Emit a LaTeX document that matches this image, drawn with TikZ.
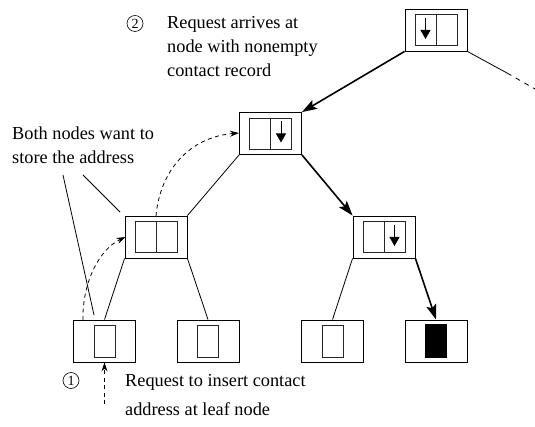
\documentclass[tikz,border=0pt]{standalone}
\usepackage{fontspec}
\setmainfont{Liberation Serif}
\usetikzlibrary{arrows.meta}
\begin{document}
\begin{tikzpicture}[x=1pt,y=-1pt,
  outerbox/.style={draw,line width=0.9pt,minimum width=62pt,minimum height=42pt,inner sep=0pt},
  innerline/.style={line width=0.6pt,draw=black!85},
  cellarrow/.style={line width=0.8pt,-{Triangle[length=9pt,width=10pt]}},
  thickarrow/.style={line width=1.6pt,-{Stealth[length=15pt,width=10pt,inset=3pt]}},
  edge/.style={line width=0.8pt},
  dasharrow/.style={line width=0.8pt,dash pattern=on 4pt off 3.5pt,-{Stealth[length=9pt,width=6pt]}},
  label/.style={inner sep=0pt,anchor=north west,align=left},
  digit/.style={draw,circle,line width=0.6pt,minimum size=16pt,inner sep=0pt,font=\fontsize{14}{14}\selectfont}
]
\useasboundingbox (0,0) rectangle (535,427);
\fill[white] (0,0) rectangle (535,427);

% tree nodes
\node[outerbox] (R) at (436,30) {};
\node[outerbox] (A) at (270.5,133.5) {};
\node[outerbox] (B) at (156,237) {};
\node[outerbox] (C) at (384,237) {};
\node[outerbox] (L1) at (104.5,341) {};
\node[outerbox] (L2) at (208,341) {};
\node[outerbox] (L3) at (332.5,341) {};
\node[outerbox] (L4) at (436,341) {};

% contact record pairs
\foreach \n in {R,A,B,C}
  \draw[innerline,shift={(\n.center)}] (-21,-15.5) rectangle (21,15.5) (0,-15.5) -- (0,15.5);
\draw[cellarrow,shift={(R.center)}] (-10.5,-12) -- (-10.5,9);
\draw[cellarrow,shift={(A.center)}] (10.5,-12) -- (10.5,9);
\draw[cellarrow,shift={(C.center)}] (10.5,-12) -- (10.5,9);

% leaf records
\foreach \n in {L1,L2,L3}
  \draw[innerline,shift={(\n.center)}] (-10.5,-16) rectangle (10.5,16);
\fill[shift={(L4.center)}] (-11,-16.5) rectangle (11,16.5);

% edges
\coordinate (r1) at (507,73);
\coordinate (r2) at (535,89);
\draw[thickarrow] (R.south west) -- (A.north east);
\draw[edge] (R.south east) -- (r1);
\draw[edge,dash pattern=on 5pt off 5pt] (r1) -- (r2);
\draw[edge] (A.south west) -- (B.north east);
\draw[thickarrow] (A.south east) -- (C.north west);
\draw[edge] (B.south west) -- (L1.north);
\draw[edge] (B.south east) -- (L2.north);
\draw[edge] (C.south west) -- (L3.north);
\draw[thickarrow] (C.south east) -- (L4.north);

% dashed request paths
\coordinate (s1) at (83,320);
\coordinate (t1) at (125.5,237);
\draw[dasharrow] (s1) .. controls (82,285) and (98,250) .. (t1);
\coordinate (s2) at (156,216);
\coordinate (t2) at (239,133);
\draw[dasharrow] (s2) .. controls (160,170) and (190,137) .. (t2);
\coordinate (s3) at (104.5,404);
\draw[dasharrow] (s3) -- (L1.south);

% annotations
\node[label,font=\fontsize{18.3}{24}\selectfont] (topnote) at (167,16)
  {Request arrives at\\node with nonempty\\contact record};
\node[digit] (d2) at (135,23.5) {2};
\node[label,font=\fontsize{18.3}{24}\selectfont] (bothnote) at (12,127)
  {Both nodes want to\\store the address};
\coordinate (p1) at (63,175);
\coordinate (q1) at (94,315);
\coordinate (p2) at (83,175);
\coordinate (q2) at (120,212);
\draw[edge] (p1) -- (q1);
\draw[edge] (p2) -- (q2);
\node[label,font=\fontsize{18.3}{28.5}\selectfont] (botnote) at (125,374.5)
  {Request to insert contact\\address at leaf node};
\node[digit] (d1) at (71,380.5) {1};
\end{tikzpicture}
\end{document}
